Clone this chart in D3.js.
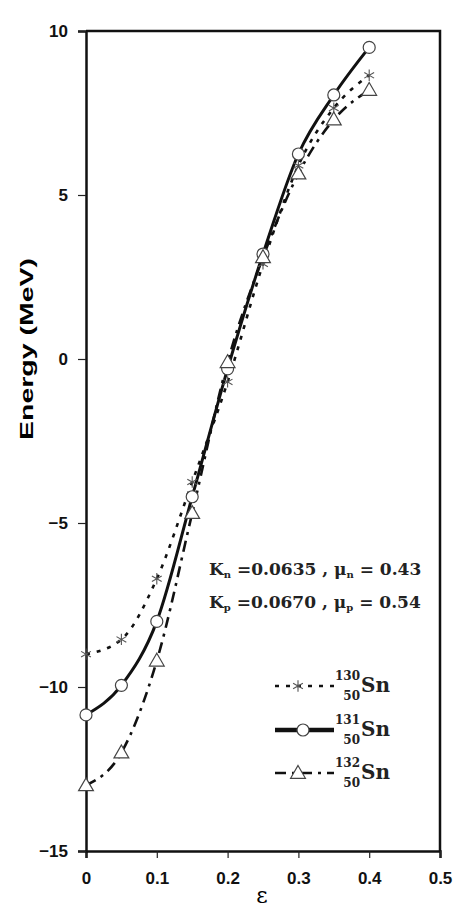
<!DOCTYPE html>
<html>
<head>
<meta charset="utf-8">
<script src="https://cdn.jsdelivr.net/npm/d3@7"></script>
<style>
  body { margin: 0; background: #fff; }
  svg { display: block; }
  .tick text { font-family: "Liberation Sans", Arial, sans-serif; font-weight: bold; font-size: 17px; fill: #111; }
  .serif { font-family: "DejaVu Serif", "Liberation Serif", serif; font-weight: bold; fill: #222; }
</style>
</head>
<body>
<div id="wrapper"></div>
<script>
// data
const deformation = [0, 0.05, 0.1, 0.15, 0.2, 0.25, 0.3, 0.35, 0.4];
const sn130 = [-9.0, -8.55, -6.7, -3.75, -0.7, 2.9, 5.9, 7.65, 8.65];
const sn131 = [-10.85, -9.95, -8.0, -4.2, -0.3, 3.2, 6.25, 8.05, 9.5];
const sn132 = [-13.0, -12.0, -9.2, -4.7, -0.1, 3.1, 5.65, 7.3, 8.2];
const xTicks = [0, 0.1, 0.2, 0.3, 0.4, 0.5];
const yTicks = [-15, -10, -5, 0, 5, 10];
const seriesNames = ["130", "131", "132"];

function drawChart() {
  const dimensions = {
    width: 456,
    height: 909,
    margin: { top: 31, right: 16, bottom: 58, left: 86 },
  };
  dimensions.boundedWidth = dimensions.width - dimensions.margin.left - dimensions.margin.right;
  dimensions.boundedHeight = dimensions.height - dimensions.margin.top - dimensions.margin.bottom;

  const svg = d3.select("#wrapper").append("svg")
    .attr("width", dimensions.width)
    .attr("height", dimensions.height);

  const bounds = svg.append("g")
    .attr("transform", `translate(${dimensions.margin.left},${dimensions.margin.top})`);

  const xScale = d3.scaleLinear().domain([0, 0.5]).range([0, dimensions.boundedWidth]);
  const yScale = d3.scaleLinear().domain([-15, 10]).range([dimensions.boundedHeight, 0]);

  // frame: top and right
  bounds.append("path")
    .attr("d", `M0,0H${dimensions.boundedWidth}V${dimensions.boundedHeight}`)
    .attr("fill", "none").attr("stroke", "#111").attr("stroke-width", 2.5);

  const xAxis = bounds.append("g")
    .attr("transform", `translate(0,${dimensions.boundedHeight})`)
    .call(d3.axisBottom(xScale).tickValues(xTicks).tickSize(7).tickPadding(14)
      .tickFormat(d => d === 0 ? "0" : d3.format(".1f")(d)));
  const yAxis = bounds.append("g")
    .call(d3.axisLeft(yScale).tickValues(yTicks).tickSize(8).tickPadding(10));

  [xAxis, yAxis].forEach(a => {
    a.select(".domain").attr("stroke", "#111").attr("stroke-width", 2.5);
    a.selectAll(".tick line").attr("stroke", "#222").attr("stroke-width", 1.2);
  });

  // axis labels
  svg.append("text")
    .attr("transform", "translate(33,440) rotate(-90)")
    .attr("textLength", 182).attr("lengthAdjust", "spacingAndGlyphs")
    .style("font-family", "'Liberation Sans', Arial, sans-serif")
    .style("font-weight", "bold").style("font-size", "18px")
    .text("Energy (MeV)");

  svg.append("text")
    .attr("x", 262).attr("y", 903)
    .attr("text-anchor", "middle")
    .style("font-family", "'DejaVu Serif', serif")
    .style("font-size", "22px")
    .text("ε");

  // curves
  const series = [
    { name: "130", values: sn130, dash: "4,7", width: 2.6, marker: "star" },
    { name: "131", values: sn131, dash: null, width: 3, marker: "circle" },
    { name: "132", values: sn132, dash: "11,6,3,6", width: 2.6, marker: "triangle" },
  ];

  const lineGenerator = d3.line()
    .x((d, i) => xScale(deformation[i]))
    .y(d => yScale(d))
    .curve(d3.curveMonotoneX);

  series.forEach(s => {
    bounds.append("path")
      .datum(s.values)
      .attr("d", lineGenerator)
      .attr("fill", "none")
      .attr("stroke", "#111")
      .attr("stroke-width", s.width)
      .attr("stroke-dasharray", s.dash);
  });

  const drawMarker = (g, type, x, y) => {
    if (type === "circle") {
      g.append("circle").attr("cx", x).attr("cy", y).attr("r", 6)
        .attr("fill", "#fff").attr("stroke", "#444").attr("stroke-width", 1.2);
    } else if (type === "triangle") {
      g.append("path").attr("d", d3.symbol(d3.symbolTriangle, 95)())
        .attr("transform", `translate(${x},${y + 1})`)
        .attr("fill", "#fff").attr("stroke", "#444").attr("stroke-width", 1.2);
    } else {
      g.append("path").attr("d", d3.symbol(d3.symbolAsterisk, 90)())
        .attr("transform", `translate(${x},${y})`)
        .attr("fill", "none").attr("stroke", "#555").attr("stroke-width", 1.1);
    }
  };

  series.forEach(s => {
    s.values.forEach((v, i) => drawMarker(bounds, s.marker, xScale(deformation[i]), yScale(v)));
  });

  // parameter annotation
  const params = [
    { k: "n", kv: "0.0635", mu: "n", muv: "0.43", y: 575 },
    { k: "p", kv: "0.0670", mu: "p", muv: "0.54", y: 608 },
  ];
  params.forEach(p => {
    const t = svg.append("text").attr("class", "serif")
      .attr("x", 209).attr("y", p.y).style("font-size", "17px");
    t.append("tspan").text("K");
    t.append("tspan").attr("dy", 3).style("font-size", "10px").text(p.k);
    t.append("tspan").attr("dy", -3).text(" =" + p.kv + " , μ");
    t.append("tspan").attr("dy", 3).style("font-size", "10px").text(p.mu);
    t.append("tspan").attr("dy", -3).text(" = " + p.muv);
  });

  // legend
  const legendRows = [686, 730, 773];
  series.forEach((s, i) => {
    const y = legendRows[i];
    const lg = svg.append("g");
    lg.append("line")
      .attr("x1", 275).attr("x2", 334).attr("y1", y).attr("y2", y)
      .attr("stroke", "#111").attr("stroke-width", s.width + (s.dash ? 0 : 1.5))
      .attr("stroke-dasharray", s.dash);
    drawMarker(lg, s.marker, s.marker === "circle" ? 303 : 298, y);
    lg.append("text").attr("class", "serif")
      .attr("x", 360).attr("y", y - 6).attr("text-anchor", "end")
      .style("font-size", "12px").text(seriesNames[i]);
    lg.append("text").attr("class", "serif")
      .attr("x", 360).attr("y", y + 14).attr("text-anchor", "end")
      .style("font-size", "12px").text("50");
    lg.append("text").attr("class", "serif")
      .attr("x", 361).attr("y", y + 6)
      .style("font-size", "20px").text("Sn");
  });
}

drawChart();
</script>
</body>
</html>
